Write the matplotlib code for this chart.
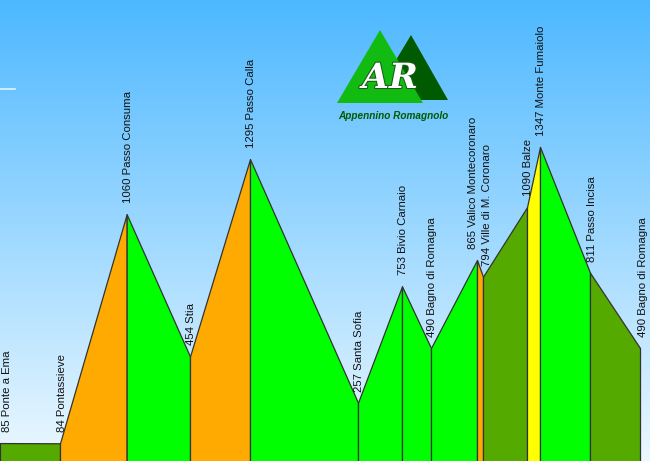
import numpy as np
import matplotlib.pyplot as plt
import matplotlib.patheffects as pe
from matplotlib.patches import Polygon

# route profile: distance (km), altitude (m), place names
km = [0, 18, 38, 57, 75, 107.4, 120.6, 129.3, 143.1, 144.9, 158.1, 162, 177, 192]
alt = [85, 84, 1060, 454, 1295, 257, 753, 490, 865, 794, 1090, 1347, 811, 490]
names = ["Ponte a Ema", "Pontassieve", "Passo Consuma", "Stia", "Passo Calla",
         "Santa Sofia", "Bivio Carnaio", "Bagno di Romagna", "Valico Montecoronaro",
         "Ville di M. Coronaro", "Balze", "Monte Fumaiolo", "Passo Incisa",
         "Bagno di Romagna"]
# colour of each segment (difficulty)
seg_colors = ["#55aa00", "#ffaa00", "#00ff00", "#ffaa00", "#00ff00", "#00ff00",
              "#00ff00", "#00ff00", "#ffaa00", "#55aa00", "#ffff00", "#00ff00",
              "#55aa00"]
# small horizontal nudges of the labels (points)
label_dx = [5, 1.5, 1, 1, 1, 1, 0.5, 1, -3, 3, 0.5, 1, 1.5, 2]

plt.rcParams['font.family'] = ['Liberation Sans', 'DejaVu Sans']

fig = plt.figure(figsize=(6.5, 4.61), dpi=100)
ax = fig.add_axes([0, 0, 1, 1])
xmin, xmax = 0, 195
ymin, ymax = 8.5, 1973
ax.set_xlim(xmin, xmax)
ax.set_ylim(ymin, ymax)
ax.axis('off')

# sky gradient
top = np.array([77, 184, 255]) / 255
bottom = np.array([236, 248, 255]) / 255
t = np.linspace(0, 1, 256)[:, None]
grad = top * (1 - t) + bottom * t
ax.imshow(grad[:, None, :], extent=[xmin, xmax, ymin, ymax], aspect='auto', zorder=0)

for i, c in enumerate(seg_colors):
    ax.fill_between(km[i:i + 2], alt[i:i + 2], 0, facecolor=c,
                    edgecolor='#333333', linewidth=0.9, zorder=2)

for x, y, n, dx in zip(km, alt, names, label_dx):
    ax.annotate(f"{y} {n}", (x, y), xytext=(dx, 8), textcoords='offset points',
                rotation=90, ha='center', va='bottom', fontsize=8.2,
                color='#111111', zorder=3)

# logo + small stray line, drawn in pixel coords on an overlay
ov = fig.add_axes([0, 0, 1, 1])
ov.set_xlim(0, 650)
ov.set_ylim(461, 0)
ov.axis('off')
ov.patch.set_alpha(0)
ov.plot([0, 15], [89, 89], color='white', lw=1.2, alpha=0.8)
ov.add_patch(Polygon([(411, 35), (448, 100), (372, 100)], closed=True,
                     facecolor='#005a00', edgecolor='none'))
ov.add_patch(Polygon([(380, 30), (423, 103), (337, 103)], closed=True,
                     facecolor='#11bb11', edgecolor='none'))
ov.text(390, 78, "AR", fontsize=25, fontweight='bold', style='italic',
        color='white', ha='center', va='center', family='DejaVu Serif',
        path_effects=[pe.withStroke(linewidth=1.5, foreground='#1a5a1a')])
ov.text(393, 116, "Appennino Romagnolo", fontsize=7.2, fontweight='bold',
        style='italic', color='#005a00', ha='center', va='center')

fig.savefig("out.png", dpi=100)
